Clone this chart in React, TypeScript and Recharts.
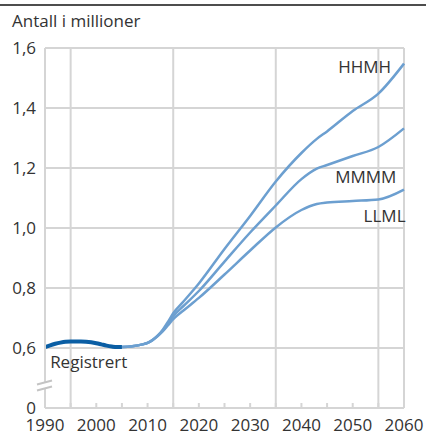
import React from 'react';
import { LineChart, Line, XAxis, YAxis, CartesianGrid, ReferenceLine, ReferenceDot } from 'recharts';

// ---- data ----
const regYears = [1990, 1991, 1992, 1993, 1994, 1995, 1996, 1997, 1998, 1999, 2000, 2001, 2002, 2003, 2004, 2005];
const registered = [0.603, 0.609, 0.614, 0.618, 0.621, 0.622, 0.622, 0.622, 0.621, 0.619, 0.616, 0.612, 0.608, 0.605, 0.603, 0.603];

const projYears = [2005, 2007, 2009, 2010, 2011, 2012, 2013, 2014, 2015, 2017, 2020, 2025, 2030, 2035, 2040, 2043, 2045, 2050, 2055, 2060];
const hhmh = [0.603, 0.606, 0.612, 0.617, 0.627, 0.642, 0.662, 0.688, 0.716, 0.755, 0.815, 0.93, 1.04, 1.155, 1.25, 1.297, 1.322, 1.39, 1.448, 1.548];
const mmmm = [0.603, 0.606, 0.612, 0.617, 0.627, 0.641, 0.659, 0.682, 0.706, 0.74, 0.79, 0.888, 0.985, 1.075, 1.163, 1.198, 1.21, 1.24, 1.27, 1.332];
const llml = [0.603, 0.606, 0.612, 0.617, 0.627, 0.64, 0.656, 0.676, 0.696, 0.725, 0.767, 0.845, 0.925, 1.002, 1.06, 1.08, 1.085, 1.09, 1.095, 1.128];

const xTicks = [1990, 1995, 2000, 2005, 2010, 2015, 2020, 2025, 2030, 2035, 2040, 2045, 2050, 2055, 2060];
const yTicks = [0.4, 0.6, 0.8, 1.0, 1.2, 1.4, 1.6];
const xGridYears = [1995, 2015, 2035, 2055, 2060];

const seriesLabels = [
  { text: 'HHMH', x: 2057.5, y: 1.517, anchor: 'end' },
  { text: 'MMMM', x: 2058.5, y: 1.15, anchor: 'end' },
  { text: 'LLML', x: 2060.3, y: 1.02, anchor: 'end' },
  { text: 'Registrert', x: 1991, y: 0.535, anchor: 'start' },
];

// ---- build tables ----
const regData = regYears.map((year, i) => ({ year, value: registered[i] }));
const hhmhData = projYears.map((year, i) => ({ year, value: hhmh[i] }));
const mmmmData = projYears.map((year, i) => ({ year, value: mmmm[i] }));
const llmlData = projYears.map((year, i) => ({ year, value: llml[i] }));

const FONT = "'Open Sans', sans-serif";
const TEXT = '#333333';
const GRID = '#d5d5d5';
const PROJ = '#6c9fd0';
const REG = '#0a5ea4';

const fmtY = (v: number) => (Math.abs(v - 0.4) < 1e-6 ? '0' : v.toFixed(1).replace('.', ','));
const fmtX = (v: number) => (v % 10 === 0 ? String(v) : '');

const BreakMark = (props: any) => {
  const { cx, cy } = props;
  return (
    <g>
      <polygon points={`${cx - 8},${cy - 1} ${cx + 7},${cy - 5} ${cx + 7},${cy + 1} ${cx - 8},${cy + 5}`} fill="#ffffff" />
      <line x1={cx - 8} y1={cy - 1} x2={cx + 7} y2={cy - 5} stroke="#c4c4c4" strokeWidth={2} />
      <line x1={cx - 8} y1={cy + 5} x2={cx + 7} y2={cy + 1} stroke="#c4c4c4" strokeWidth={2} />
    </g>
  );
};

const makeLabel = (text: string, anchor: string) => (props: any) => (
  <text x={props.cx} y={props.cy} textAnchor={anchor} fill={TEXT} fontFamily={FONT} fontSize={17}>
    {text}
  </text>
);

export default function App() {
  return (
    <div style={{ position: 'absolute', left: 0, top: 0, width: 426, height: 434, background: '#fff' }}>
      <div style={{ position: 'absolute', left: 0, top: 4, width: 426, height: 2, background: '#4d4d4d' }} />
      <div
        style={{
          position: 'absolute',
          left: 12,
          top: 9,
          fontFamily: FONT,
          fontSize: 17,
          color: TEXT,
          lineHeight: '24px',
          whiteSpace: 'nowrap',
        }}
      >
        Antall i millioner
      </div>
      <LineChart width={426} height={434} margin={{ top: 48, right: 22, bottom: 0, left: 0 }}>
        <CartesianGrid vertical={false} stroke={GRID} strokeWidth={2} />
        {xGridYears.map((yr) => (
          <ReferenceLine key={yr} x={yr} stroke={GRID} strokeWidth={2} />
        ))}
        <XAxis
          type="number"
          dataKey="year"
          domain={[1990, 2060]}
          ticks={xTicks}
          interval={0}
          tickFormatter={fmtX}
          tickSize={-5}
          tickMargin={16}
          height={26}
          axisLine={{ stroke: GRID, strokeWidth: 2 }}
          tickLine={{ stroke: GRID, strokeWidth: 2 }}
          tick={{ fill: TEXT, fontFamily: FONT, fontSize: 17 }}
        />
        <YAxis
          type="number"
          domain={[0.4, 1.6]}
          ticks={yTicks}
          interval={0}
          tickFormatter={fmtY}
          width={45}
          tickSize={7}
          tickMargin={2}
          tickLine={false}
          axisLine={{ stroke: GRID, strokeWidth: 2 }}
          tick={{ fill: TEXT, fontFamily: FONT, fontSize: 17 }}
        />
        <ReferenceDot x={1990} y={0.475} r={0} ifOverflow="visible" shape={BreakMark} />
        <Line data={llmlData} dataKey="value" type="monotone" stroke={PROJ} strokeWidth={2.5} dot={false} isAnimationActive={false} />
        <Line data={mmmmData} dataKey="value" type="monotone" stroke={PROJ} strokeWidth={2.5} dot={false} isAnimationActive={false} />
        <Line data={hhmhData} dataKey="value" type="monotone" stroke={PROJ} strokeWidth={2.5} dot={false} isAnimationActive={false} />
        <Line data={regData} dataKey="value" type="monotone" stroke={REG} strokeWidth={4} dot={false} isAnimationActive={false} />
        {seriesLabels.map((l) => (
          <ReferenceDot key={l.text} x={l.x} y={l.y} r={0} ifOverflow="visible" shape={makeLabel(l.text, l.anchor)} />
        ))}
      </LineChart>
    </div>
  );
}
